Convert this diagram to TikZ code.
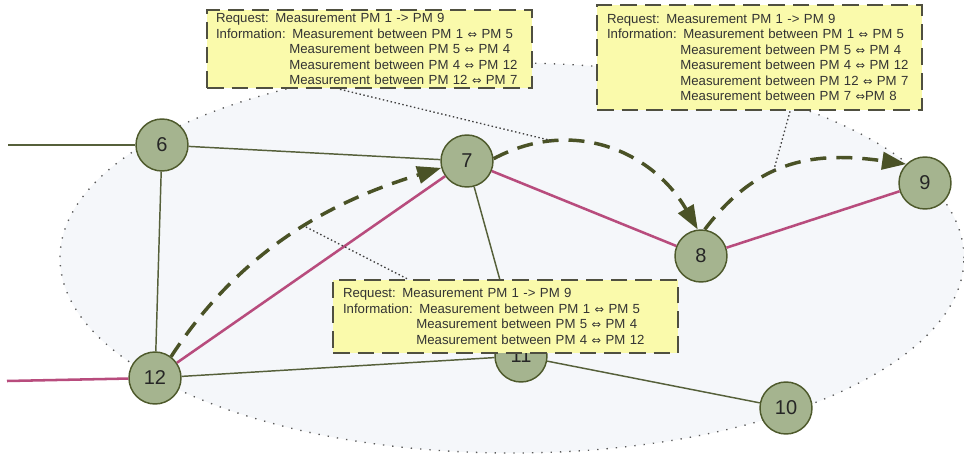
\documentclass[tikz,border=0pt]{standalone}
\usepackage{fontspec}
\setmainfont{Liberation Sans}
\newfontfamily\arrfont{DejaVu Sans}
\usetikzlibrary{arrows.meta,calc}
\newcommand\dar{{\arrfont\fontsize{8.5pt}{8.5pt}\selectfont ⇔}}
\newcommand\indentinfo{\hspace*{55pt}}
\definecolor{nodefill}{HTML}{A5B48F}
\definecolor{nodeborder}{HTML}{4E5A2C}
\definecolor{olivetwo}{HTML}{56603A}
\definecolor{routec}{HTML}{B84C7D}
\definecolor{flowc}{HTML}{4A5226}
\definecolor{areafill}{HTML}{F5F7FA}
\definecolor{boxborder}{HTML}{4F4F40}
\definecolor{boxfill}{HTML}{FAFAAB}
\begin{document}
\begin{tikzpicture}[x=0.75pt,y=0.75pt,
  pm/.style={circle, draw=nodeborder, fill=nodefill, line width=1.1pt, minimum size=39pt, inner sep=0pt, font=\fontsize{15pt}{15pt}\selectfont, text=black!85},
  link/.style={draw=olivetwo, line width=1.1pt},
  route/.style={draw=routec, line width=1.9pt},
  flow/.style={draw=flowc, line width=2.6pt, dash pattern=on 12pt off 7.5pt, -{Triangle[length=18pt,width=13pt]}},
  callout/.style={draw=black!75, line width=1pt, dash pattern=on 1.1pt off 1.9pt},
  area/.style={draw=black!65, fill=areafill, line width=1pt, dash pattern=on 1pt off 6pt},
  infobox/.style={draw=boxborder, fill=boxfill, line width=2pt, dash pattern=on 12.5pt off 6pt, inner ysep=0pt, align=left, font=\fontsize{9.9pt}{11.6pt}\selectfont, text=black!80}]
\fill[white] (0,0) rectangle (964,-456);
\useasboundingbox (0,0) rectangle (964,-456);
% area
\draw[area] (512,-258) ellipse [x radius=339pt, y radius=146.25pt];
% nodes
\node[pm] (n6) at (162,-145) {6};
\node[pm] (n7) at (467,-161) {7};
\node[pm] (n8) at (701,-256) {8};
\node[pm] (n9) at (925,-183) {9};
\node[pm] (n10) at (786,-408) {10};
\node[pm] (n11) at (521,-356) {11};
\node[pm] (n12) at (155,-378) {12};
\coordinate (w6) at (8,-145);
\coordinate (w12) at (7,-381);
% links
\draw[link] (w6) -- (n6);
\draw[link] (n6) -- (n7);
\draw[link] (n6) -- (n12);
\draw[link] (n7) -- (n11);
\draw[link] (n12) -- (n11);
\draw[link] (n11) -- (n10);
% route
\draw[route] (w12) -- (n12);
\draw[route] (n12) -- (n7);
\draw[route] (n7) -- (n8);
\draw[route] (n8) -- (n9);
% flows
\draw[flow] (n12.53) .. controls +(57:139) and +(197:100) .. (n7.195) coordinate[pos=0.52] (c127);
\draw[flow] (n7.5) .. controls +(28:90) and +(120:90) .. (n8.97) coordinate[pos=0.25] (c78);
\draw[flow] (n8.82) .. controls +(53:90) and +(172:90) .. (n9.135) coordinate[pos=0.4] (c89);
% boxes
\node[infobox, inner xsep=6.75pt, text width=230.25pt, minimum height=58.5pt] (b1) at (369.5,-49)
{Request: Measurement PM 1 -> PM 9\\
Information: Measurement between PM 1 \dar{} PM 5\\
\indentinfo Measurement between PM 5 \dar{} PM 4\\
\indentinfo Measurement between PM 4 \dar{} PM 12\\
\indentinfo Measurement between PM 12 \dar{} PM 7};
\node[infobox, inner xsep=7.5pt, text width=228.75pt, minimum height=78.75pt] (b2) at (759.5,-57.5)
{Request: Measurement PM 1 -> PM 9\\
Information: Measurement between PM 1 \dar{} PM 5\\
\indentinfo Measurement between PM 5 \dar{} PM 4\\
\indentinfo Measurement between PM 4 \dar{} PM 12\\
\indentinfo Measurement between PM 12 \dar{} PM 7\\
\indentinfo Measurement between PM 7 \dar{}PM 8};
\node[infobox, inner xsep=7.5pt, text width=243.75pt, minimum height=54.75pt] (b3) at (505.5,-316.5)
{Request: Measurement PM 1 -> PM 9\\
Information: Measurement between PM 1 \dar{} PM 5\\
\indentinfo Measurement between PM 5 \dar{} PM 4\\
\indentinfo Measurement between PM 4 \dar{} PM 12};
% callouts
\draw[callout] ([xshift=-22.1pt]b1.south) -- (c78);
\draw[callout] ([xshift=-73.9pt]b3.north) -- (c127);
\draw[callout] ([xshift=22.9pt]b2.south) -- (c89);
\end{tikzpicture}
\end{document}
